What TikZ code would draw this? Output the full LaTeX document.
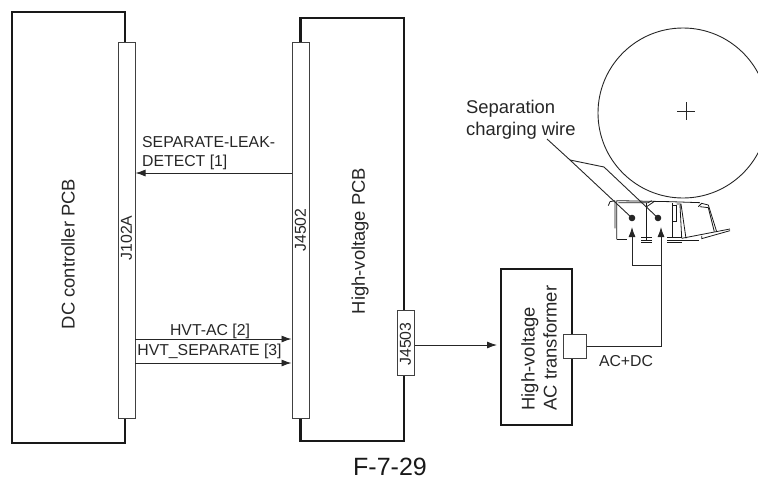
\documentclass[tikz,border=0pt]{standalone}
\usepackage{fontspec}
\setmainfont{Liberation Sans}
\usetikzlibrary{arrows.meta, positioning}
\tikzset{
  pcbline/.style={line width=2.2pt, black!90},
  conn/.style={draw=black!75, fill=white, line width=1pt, inner sep=0pt},
  sig/.style={-{Latex[length=10pt,width=7pt]}, line width=0.9pt, black!85},
  lbl/.style={text=black!85, font=\fontsize{15.8}{18.8}\selectfont, inner sep=0pt},
  biglbl/.style={text=black!85, font=\fontsize{18.4}{22}\selectfont, inner sep=0pt},
  part/.style={line width=0.9pt, black!85}
}
\begin{document}
\begin{tikzpicture}[x=1pt, y=-1pt]
  \useasboundingbox (0,0) rectangle (758,480);

  % DC controller board
  \draw[pcbline] (125,42) -- (125,12) -- (12,12) -- (12,443) -- (125,443) -- (125,418);
  \node[conn, minimum width=17pt, minimum height=376pt] (j102a) at (126.5,230) {};
  \node[lbl, rotate=90] (j102atxt) at (126.5,238) {J102A};
  \node[biglbl, rotate=90] (dctxt) at (68,254) {DC controller PCB};

  % High-voltage board
  \draw[pcbline] (300.5,42) -- (300.5,18) -- (404,18) -- (404,441) -- (300.5,441) -- (300.5,418);
  \node[conn, minimum width=17pt, minimum height=376pt] (j4502) at (300.5,230) {};
  \node[lbl, rotate=90] (j4502txt) at (300.5,230) {J4502};
  \node[conn, minimum width=17pt, minimum height=65pt] (j4503) at (405.5,343) {};
  \node[lbl, rotate=90] (j4503txt) at (405.5,344) {J4503};
  \node[biglbl, rotate=90] (hvtxt) at (360,241) {High-voltage PCB};

  % Transformer
  \node[draw, pcbline, minimum width=71pt, minimum height=156pt] (trans) at (536.5,347) {};
  \node[biglbl, rotate=90, align=left] (transtxt) at (539,348) {High-voltage\\AC transformer};
  \node[conn, minimum width=23pt, minimum height=24pt] (term) at (574.5,346) {};
  \node[lbl] (acdc) at (626,361) {AC+DC};

  % Signals
  \coordinate (leak) at (292,173);
  \coordinate (hvtac) at (135,339);
  \coordinate (hvtsep) at (135,363);
  \coordinate (xfrin) at (497,345);
  \draw[sig] (leak) -- (j102a.east |- leak);
  \draw[sig] (hvtac) -- (j4502.west |- hvtac);
  \draw[sig] (hvtsep) -- (j4502.west |- hvtsep);
  \draw[sig] (j4503.east |- xfrin) -- (xfrin);
  \node[lbl, align=left, anchor=base west] (leaktxt) at (142,166) {SEPARATE-LEAK-\\DETECT [1]};
  \node[lbl] (hvtactxt) at (210,331) {HVT-AC [2]};
  \node[lbl] (hvtseptxt) at (209.5,351) {HVT\_SEPARATE [3]};

  % Drum
  \draw[part] (683,113) circle (85);
  \draw[part] (677,111) -- (695,111) (686,102) -- (686,120);

  % Charging assembly
  \begin{scope}[shift={(580,160)}, x=0.3333pt, y=-0.3333pt, line width=0.8pt, black!90]
    \draw (110,238) -- (110,122) -- (270,125) -- (360,128);
    \draw (85,137) -- (90,125) -- (105,122) (105,122) -- (105,205);
    \draw (115,128) -- (205,128) -- (215,122);
    \draw (110,238) -- (140,238);
    \draw (198,130) -- (198,240);
    \draw (183,233) -- (217,233) (183,240) -- (217,240) (183,246) -- (217,246);
    \draw (200,140) -- (222,125);
    \draw (277,130) -- (277,232);
    \draw (262,233) -- (305,233) (262,240) -- (358,240) (262,246) -- (305,246);
    \draw (280,135) -- (290,135) -- (290,185) -- (280,185);
    \draw (290,132) -- (303,132) -- (318,235) (300,135) -- (305,232);
    \draw (305,235) -- (450,207) (365,228) -- (365,236) -- (450,212);
    \draw (355,140) -- (365,130) -- (385,135) -- (410,215);
    \draw (360,140) -- (385,143) -- (403,215);
  \end{scope}

  % Wires
  \fill[black!85] (632,218) circle (3.3) (658,218) circle (3.3);
  \coordinate (wiretip) at (570,160);
  \coordinate (leftdot) at (632,218);
  \coordinate (rightdot) at (658,218);
  \coordinate (wirelbl) at (547,139);
  \node[biglbl, align=left, anchor=base west] (wiretxt) at (466,135) {Separation\\charging wire};
  \draw[part] (wirelbl) -- (wiretip) -- (leftdot);
  \draw[part] (wiretip) -- (604,167) -- (rightdot);

  % Feed to the wires
  \coordinate (feedl) at (632,265);
  \coordinate (feedr) at (661,265);
  \draw[line width=0.9pt, black!85] (term.east) -- (661,346) -- (feedr) -- (feedl);
  \draw[sig] (feedl) -- (632,227);
  \draw[sig] (feedr) -- (661,227);

  % Figure number
  \node[text=black!90, font=\fontsize{25}{29}\selectfont, inner sep=0pt] (fignum) at (390,467) {F-7-29};
\end{tikzpicture}
\end{document}
